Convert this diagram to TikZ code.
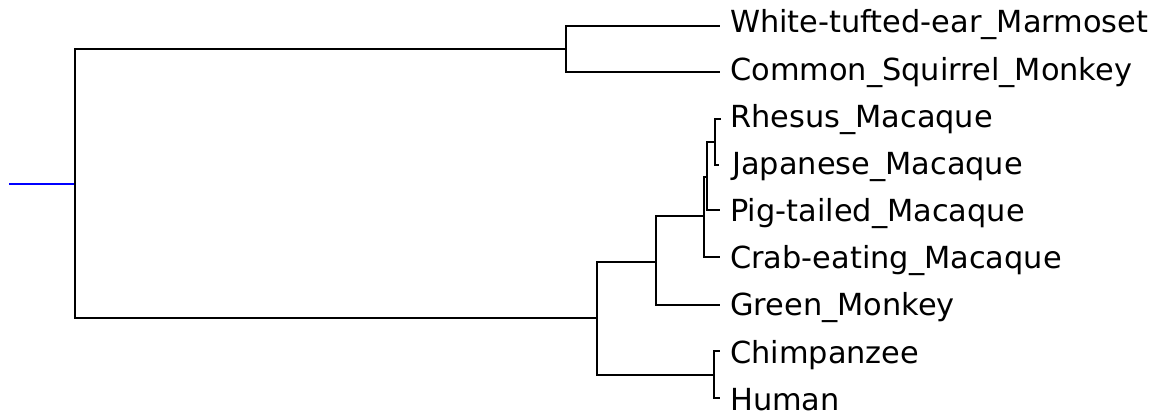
\documentclass[tikz,border=0pt]{standalone}
\usepackage{fontspec}
\setmainfont{DejaVu Sans}
\begin{document}
\begin{tikzpicture}[x=1pt,y=-1pt,
  branch/.style={draw=black,line width=2.4pt,line cap=rect},
  rootbranch/.style={draw=blue,line width=2.4pt},
  leaflabel/.style={anchor=base west,inner sep=0pt,font=\fontsize{30.4}{34}\selectfont}]
\useasboundingbox (0,0) rectangle (1165,412);
% internal nodes
\coordinate (start) at (9,184);
\coordinate (root) at (75,184);
\coordinate (A) at (566,49);
\coordinate (B) at (597,318);
\coordinate (C) at (656,262);
\coordinate (D) at (714,375);
\coordinate (E) at (704,216);
\coordinate (F) at (707,177);
\coordinate (G) at (715,142);
% leaf tips
\coordinate (tWhite) at (719,26);
\coordinate (tSquirrel) at (719,72);
\coordinate (tRhesus) at (720,119);
\coordinate (tJapanese) at (718,165);
\coordinate (tPig) at (719,210);
\coordinate (tCrab) at (719,257);
\coordinate (tGreen) at (719,305);
\coordinate (tChimp) at (719,351);
\coordinate (tHuman) at (719,398);
% branches
\draw[rootbranch] (start) -- (root);
\draw[branch] (root) |- (A);
\draw[branch] (root) |- (B);
\draw[branch] (A) |- (tWhite);
\draw[branch] (A) |- (tSquirrel);
\draw[branch] (B) |- (C);
\draw[branch] (B) |- (D);
\draw[branch] (C) |- (E);
\draw[branch] (C) |- (tGreen);
\draw[branch] (E) |- (F);
\draw[branch] (E) |- (tCrab);
\draw[branch] (F) |- (G);
\draw[branch] (F) |- (tPig);
\draw[branch] (G) |- (tRhesus);
\draw[branch] (G) |- (tJapanese);
\draw[branch] (D) |- (tChimp);
\draw[branch] (D) |- (tHuman);
% labels
\node[leaflabel] (lWhite) at (730,33) {White-tufted-ear\_Marmoset};
\node[leaflabel] (lSquirrel) at (730,80.5) {Common\_Squirrel\_Monkey};
\node[leaflabel] (lRhesus) at (730,127.5) {Rhesus\_Macaque};
\node[leaflabel] (lJapanese) at (732,174.5) {Japanese\_Macaque};
\node[leaflabel] (lPig) at (730,221.5) {Pig-tailed\_Macaque};
\node[leaflabel] (lCrab) at (730,268.5) {Crab-eating\_Macaque};
\node[leaflabel] (lGreen) at (730,315.5) {Green\_Monkey};
\node[leaflabel] (lChimp) at (730,363) {Chimpanzee};
\node[leaflabel] (lHuman) at (730,410.5) {Human};
\end{tikzpicture}
\end{document}
